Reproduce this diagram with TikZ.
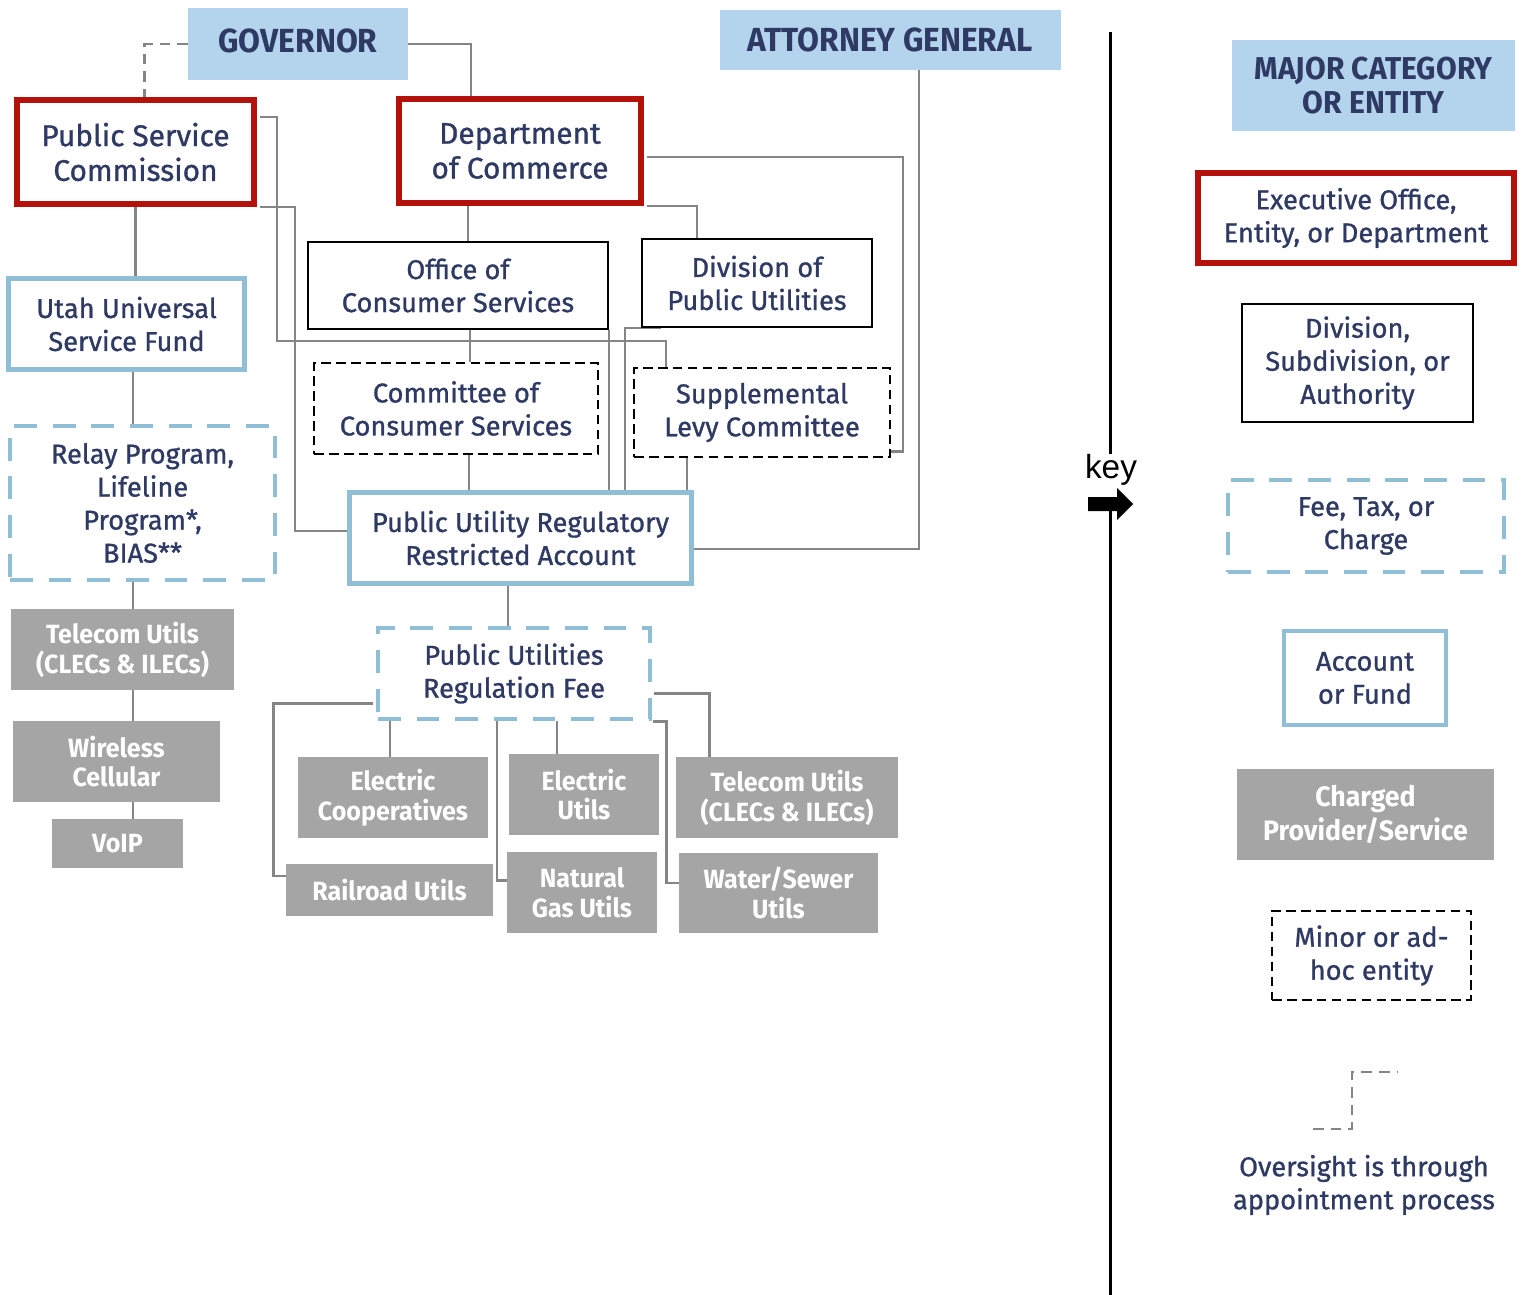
\documentclass[tikz,border=0pt]{standalone}
\usepackage{fontspec}
\setmainfont{Fira Sans}
\newfontfamily\labelfont{Fira Sans}[FakeBold=1]
\newfontfamily\condfont{Fira Sans}[FakeStretch=0.95]
\newfontfamily\keyfont{Liberation Sans}
\usepackage{tikz}
\usetikzlibrary{calc, backgrounds}
\definecolor{navytext}{HTML}{2E3A63}
\definecolor{headblue}{HTML}{B4D3EC}
\definecolor{execred}{HTML}{B3110A}
\definecolor{acctblue}{HTML}{91BED7}
\definecolor{provgray}{HTML}{A5A5A5}
\definecolor{linkgray}{HTML}{858585}
\tikzstyle{every node}=[text=navytext, align=center, inner sep=0pt, font=\labelfont\fontsize{15.5}{18.8}\selectfont]
\tikzstyle{head}=[fill=headblue, font=\condfont\bfseries\fontsize{19}{20}\selectfont]
\tikzstyle{exec}=[draw=execred, line width=3.4pt]
\tikzstyle{division}=[draw=black, line width=1.1pt]
\tikzstyle{account}=[draw=acctblue, line width=2.8pt]
\tikzstyle{fee}=[draw=acctblue, line width=2.8pt, dash pattern=on 13pt off 9pt]
\tikzstyle{adhoc}=[draw=black, line width=1.1pt, dash pattern=on 5.5pt off 3pt]
\tikzstyle{provider}=[fill=provgray, text=white, font=\condfont\bfseries\fontsize{15}{17}\selectfont]
\tikzstyle{link}=[draw=linkgray, line width=1.4pt]
\tikzstyle{appoint}=[link, dash pattern=on 6pt off 4pt]
\tikzset{wh/.style 2 args={minimum width=#1*0.02cm, minimum height=#2*0.02cm}}

\begin{document}
\begin{tikzpicture}[x=0.02cm, y=-0.02cm]
  \useasboundingbox (0,0) rectangle (1526,1295);
  % state entities
  \node[head, wh={220}{72}] (gov) at (298,44) {\raisebox{0.12cm}{GOVERNOR}};
  \node[head, wh={341}{60}] (ag) at (890,40) {ATTORNEY GENERAL};
  \node[exec, wh={237}{104}, font=\labelfont\fontsize{17}{19.8}\selectfont] (psc) at (135.5,152) {Public Service\\Commission};
  \node[exec, wh={242}{104}, font=\labelfont\fontsize{17}{19.8}\selectfont] (doc) at (520,151) {Department\\of Commerce};
  \node[division, wh={300}{87}] (ocs) at (458,285.5) {Office of\\Consumer Services};
  \node[division, wh={230}{88}] (dpu) at (757,283) {Division of\\Public Utilities};
  \node[account, wh={236}{91}] (usf) at (126.5,324) {Utah Universal\\Service Fund};
  \node[adhoc, wh={284}{91}] (ccs) at (456,408.5) {Committee of\\Consumer Services};
  \node[adhoc, wh={256}{89}] (slc) at (762,412.5) {Supplemental\\Levy Committee};
  \node[fee, wh={265}{154}] (relay) at (142.5,503) {Relay Program,\\Lifeline\\Program*,\\BIAS**};
  \node[account, wh={342}{91}] (purra) at (520.5,538) {Public Utility Regulatory\\Restricted Account};
  \node[fee, wh={272}{91}] (purf) at (514,673.5) {Public Utilities\\Regulation Fee};
  % charged providers
  \node[provider, wh={223}{81}] (tel1) at (122.5,649.5) {Telecom Utils\\(CLECs \& ILECs)};
  \node[provider, wh={207}{81}] (wire) at (116.5,761.5) {Wireless\\Cellular};
  \node[provider, wh={131}{49}] (voip) at (117.5,843.5) {VoIP};
  \node[provider, wh={190}{81}] (ecoop) at (393,797.5) {Electric\\Cooperatives};
  \node[provider, wh={150}{81}] (eutil) at (584,794.5) {Electric\\Utils};
  \node[provider, wh={222}{81}] (tel2) at (787,797.5) {Telecom Utils\\(CLECs \& ILECs)};
  \node[provider, wh={207}{52}] (rail) at (389.5,890) {Railroad Utils};
  \node[provider, wh={150}{81}] (gas) at (582,892.5) {Natural\\Gas Utils};
  \node[provider, wh={199}{80}] (water) at (778.5,893) {Water/Sewer\\Utils};

  \begin{scope}[on background layer]
    \draw[appoint] (gov.west) -| ($(psc.north)+(9,0)$);
    \draw[link] (gov.east) -| ($(doc.north west)+(75,0)$);
    \draw[link] (psc.south) -- (psc.south |- usf.north);
    \coordinate (col) at (133,0);
    \draw[link] (col |- usf.south) -- (col |- relay.north);
    \draw[link] (col |- relay.south) -- (col |- tel1.north);
    \draw[link] (col |- tel1.south) -- (col |- wire.north);
    \draw[link] (col |- wire.south) -- (col |- voip.north);
    \draw[link] ($(psc.north east)+(3,20)$) -- ++(17,0) -- ++(0,224) -| ($(slc.north west)+(33,0)$);
    \draw[link] ($(psc.south east)+(3,0)$) -| ($(purra.west)+(-52,-7)$) -- ($(purra.west)+(0,-7)$);
    \draw[link] ($(ocs.north)+(10,0)$) -- ($(doc.south)+(-52,0)$);
    \draw[link] ($(doc.east)+(3,6)$) -| ($(slc.east)+(12,39)$) -- ($(slc.east)+(0,39)$);
    \draw[link] ($(doc.south east)+(3,0)$) -| ($(dpu.north west)+(56,0)$);
    \draw[link] ($(ocs.south)+(12,0)$) -- ($(ccs.north)+(14,0)$);
    \draw[link] (ocs.south east) -- (ocs.south east |- purra.north);
    \draw[link] ($(dpu.south west)+(20,0)$) -| ($(purra.north east)+(-69,0)$);
    \draw[link] ($(ccs.south)+(13,0)$) coordinate (c1) -- (c1 |- purra.north);
    \draw[link] ($(purra.north east)+(-7,0)$) coordinate (c2) -- (c2 |- slc.south);
    \draw[link] ($(ag.south)+(29,0)$) |- ($(purra.east)+(0,11)$);
    \draw[link] ($(purf.north)+(-6,0)$) coordinate (c3) -- (c3 |- purra.south);
    \draw[link] ($(purf.west)+(-3,30)$) -| ($(rail.west)+(-12,-14)$) -- ($(rail.west)+(0,-14)$);
    \draw[link] ($(ecoop.north)+(-3,0)$) coordinate (c4) -- (c4 |- purf.south);
    \draw[link] ($(purf.south)+(-17,0)$) |- ($(gas.west)+(0,-12)$);
    \draw[link] ($(eutil.north)+(-27,0)$) coordinate (c5) -- (c5 |- purf.south);
    \draw[link] ($(purf.south east)+(1,0)$) -| ($(water.west)+(-12,-10)$) -- ($(water.west)+(0,-10)$);
    \draw[link] ($(purf.east)+(2,20)$) -| ($(tel2.north west)+(34,0)$);
  \end{scope}

  % key
  \coordinate (keytop) at (1110,32);
  \coordinate (keybot) at (1110,1295);
  \node[text=black, font=\keyfont\fontsize{19}{22}\selectfont] (key) at (1111,470) {key};
  \draw[black, line width=1.7pt] (keytop) -- (keytop |- key.north);
  \draw[black, line width=1.7pt] ($(key.south)+(-1,14)$) -- (keybot);
  \fill[black] (1088,497) -- (1117,497) -- (1117,488) -- (1133,504) -- (1117,520) -- (1117,511) -- (1088,511) -- cycle;
  \node[head, wh={283}{91}, font=\condfont\bfseries\fontsize{18}{19.2}\selectfont] (kmajor) at (1373.5,85.5) {MAJOR CATEGORY\\OR ENTITY};
  \node[exec, wh={316}{90}] (kexec) at (1356,218) {Executive Office,\\Entity, or Department};
  \node[division, wh={231}{118}] (kdiv) at (1357.5,363) {Division,\\Subdivision, or\\Authority};
  \node[fee, wh={276}{92}] (kfee) at (1366,526) {Fee, Tax, or\\Charge};
  \node[account, wh={162}{94}] (kacct) at (1365,678) {Account\\or Fund};
  \node[provider, wh={257}{91}, font=\condfont\bfseries\fontsize{16}{19}\selectfont] (kprov) at (1365.5,814.5) {Charged\\Provider/Service};
  \node[adhoc, wh={199}{89}] (kadhoc) at (1371.5,955.5) {Minor or ad-\\hoc entity};
  \coordinate (kapp1) at (1313,1129);
  \coordinate (kapp2) at (1397,1072);
  \draw[appoint] (kapp1) -- ++(39,0) |- (kapp2);
  \node (kappnote) at (1364,1185) {Oversight is through\\appointment process};
\end{tikzpicture}
\end{document}
